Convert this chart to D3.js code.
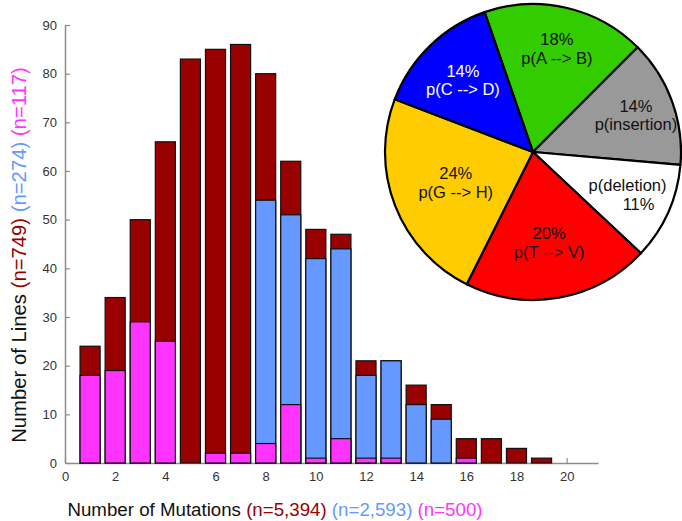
<!DOCTYPE html>
<html><head><meta charset="utf-8">
<script src="https://cdn.jsdelivr.net/npm/d3@7"></script>
<style>body{margin:0;background:#fff}svg{display:block}text{font-family:"Liberation Sans",Arial,sans-serif}</style>
</head><body><svg id="c" width="682" height="521"></svg>
<script>
const mutations = [1,2,3,4,5,6,7,8,9,10,11,12,13,14,15,16,17,18,19,20];
const allLines  = [24,34,50,66,83,85,86,80,62,48,47,21,21,16,12,5,5,3,1,0];
const blueLines = [0,0,0,0,0,0,0,54,51,42,44,18,21,12,9,0,0,0,0,0];
const pinkLines = [18,19,29,25,0,2,2,4,12,1,5,1,1,0,0,1,0,0,0,0];
const xTicks = [0,2,4,6,8,10,12,14,16,18,20];
const yTicks = [0,10,20,30,40,50,60,70,80,90];
const pieLabels = ["p(A --> B)","p(insertion)","p(deletion)","p(T --> V)","p(G --> H)","p(C --> D)"];
const piePct = ["18%","14%","11%","20%","24%","14%"];
const pieShare = [17.8,13.9,10.6,20.4,23.4,13.9];

const svg = d3.select("#c");
const x = d3.scaleLinear().domain([0,21.25]).range([65,598]);
const y = d3.scaleLinear().domain([0,90]).range([463,25]);
const bw = x(0.8)-x(0);
const C = {maroon:"#990000", blue:"#6699ff", pink:"#ff33ff"};

// axes (drawn first so bar outlines sit on top)
const ya = svg.append("g").attr("transform","translate(65,0)")
  .call(d3.axisLeft(y).tickValues(yTicks).tickSizeInner(-5).tickSizeOuter(0).tickPadding(8));
const xa = svg.append("g").attr("transform","translate(0,463)")
  .call(d3.axisBottom(x).tickValues(xTicks).tickSizeInner(-5).tickSizeOuter(0).tickPadding(9));
[ya,xa].forEach(a=>{
  a.select(".domain").attr("stroke","#8c8c8c").attr("stroke-width",1.5);
  a.selectAll(".tick line").attr("stroke","#8c8c8c").attr("stroke-width",1.2);
  a.selectAll(".tick text").attr("fill","#333").style("font-size","13px").style("font-family","Liberation Sans, Arial, sans-serif");
});

function bars(vals, color){
  svg.append("g").selectAll("rect").data(mutations.map((m,i)=>({m,v:vals[i]})).filter(d=>d.v>0 || color===C.maroon))
    .join("rect")
    .attr("x",d=>x(d.m)-bw/2).attr("width",bw)
    .attr("y",d=>y(d.v)).attr("height",d=>y(0)-y(d.v))
    .attr("fill",color).attr("stroke","#111").attr("stroke-width",1.2);
}
bars(allLines, C.maroon);
bars(blueLines, C.blue);
bars(pinkLines, C.pink);

// axis titles
const yt = svg.append("text").attr("transform","translate(26,255) rotate(-90)").attr("text-anchor","middle").style("font-size","20.3px");
yt.text("Number of Lines ").attr("fill","#111");
[["(n=749) ",C.maroon],["(n=274) ",C.blue],["(n=117)",C.pink]].forEach(([t,c])=>yt.append("tspan").attr("fill",c).text(t));
const xt = svg.append("text").attr("x",275).attr("y",516).attr("text-anchor","middle").style("font-size","18.7px").attr("fill","#111");
xt.text("Number of Mutations ");
[["(n=5,394) ",C.maroon],["(n=2,593) ",C.blue],["(n=500)",C.pink]].forEach(([t,c])=>xt.append("tspan").attr("fill",c).text(t));

// pie
const pieColors = ["#33cc00","#999999","#ffffff","#ff0000","#ffcc00","#0000ff"];
const pieText = ["#111","#111","#111","#111","#111","#ffffff"];
const labelR = [0.72,0.74,0.70,0.62,0.56,0.68];
const pctFirst = [true,true,false,true,true,true];
const R = 148, cx = 533, cy = 152;
const a0 = -19.1*Math.PI/180;
const pie = d3.pie().sort(null).startAngle(a0).endAngle(a0+2*Math.PI)(pieShare);
const arc = d3.arc().innerRadius(0).outerRadius(R);
const pg = svg.append("g").attr("transform",`translate(${cx},${cy})`);
pg.selectAll("path").data(pie).join("path").attr("d",arc)
  .attr("fill",(d,i)=>pieColors[i]).attr("stroke","#000").attr("stroke-width",2.2).attr("stroke-linejoin","round");
pie.forEach((d,i)=>{
  const la = d3.arc().innerRadius(R*labelR[i]).outerRadius(R*labelR[i]);
  const [px,py] = la.centroid(d);
  const t = pg.append("text").attr("text-anchor","middle").attr("fill",pieText[i]).style("font-size","16.5px");
  const lines = pctFirst[i] ? [piePct[i],pieLabels[i]] : [pieLabels[i],piePct[i]];
  lines.forEach((s,k)=>t.append("tspan").attr("x",px + (k===1 && !pctFirst[i] ? 11 : 0)).attr("y",py-3+k*18.5).text(s));
});
</script></body></html>
